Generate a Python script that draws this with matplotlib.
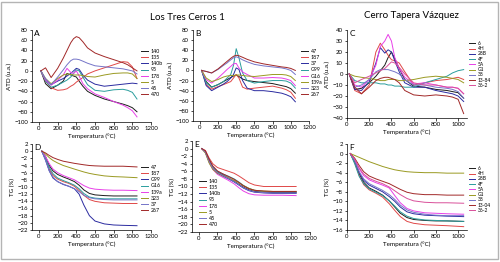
import matplotlib
matplotlib.use("Agg")
from matplotlib import pyplot as plt
from matplotlib.patches import Rectangle

plt.rcParams['font.family'] = ['Lato', 'DejaVu Sans']

# temperatures (°C) used for all curves
temp_atd = [20, 70, 130, 200, 260, 300, 340, 370, 400, 430, 470, 520, 600, 700, 800, 900, 950, 1000, 1050]
temp_tg = [30, 70, 110, 150, 200, 260, 320, 380, 430, 480, 540, 600, 700, 800, 900, 1050]

# A - ATD, Los Tres Cerros 1
a_labels = ["140", "135", "140b", "95", "178", "5", "45", "470"]
a_140 = [0, -25, -35, -28, -20, -5, -8, -10, -12, -20, -30, -40, -48, -55, -60, -65, -68, -72, -80]
a_135 = [0, -20, -33, -38, -37, -35, -30, -27, -22, -18, -13, -6, 0, 6, 12, 18, 17, 8, -15]
a_140b = [0, -18, -27, -20, -15, -10, -5, 0, 5, 3, -8, -18, -26, -30, -28, -26, -25, -24, -25]
a_95 = [0, -20, -32, -28, -22, -18, -12, -5, 2, 0, -12, -27, -38, -40, -37, -36, -38, -42, -55]
a_178 = [0, -18, -28, -18, -8, 5, -3, -5, 0, -10, -25, -35, -45, -52, -60, -67, -72, -78, -90]
a_5 = [0, -15, -25, -15, -8, -6, -7, -8, -8, -8, -9, -11, -12, -8, -5, -4, -4, -6, -15]
a_45 = [0, -15, -27, -12, 2, 12, 20, 23, 23, 22, 19, 15, 10, 8, 6, 4, 2, 0, -6]
a_470 = [0, 6, -13, 5, 25, 40, 55, 63, 67, 65, 57, 45, 35, 28, 22, 16, 12, 6, 0]

# B - ATD, Los Tres Cerros 1
b_labels = ["47", "187", "37", "G99", "G16", "139a", "323", "267"]
b_47 = [0, -22, -33, -28, -22, -18, -14, -11, -9, -12, -17, -20, -22, -24, -26, -30, -32, -36, -45]
b_187 = [0, -28, -37, -32, -28, -25, -22, -15, -8, -15, -33, -37, -35, -33, -31, -35, -38, -43, -55]
b_37 = [0, -30, -40, -33, -27, -22, -15, -8, 5, 2, -20, -35, -40, -40, -42, -45, -48, -52, -62]
b_g99 = [0, -25, -33, -28, -22, -15, -8, 10, 43, 25, -5, -20, -25, -22, -20, -20, -21, -25, -35]
b_g16 = [0, -18, -25, -15, -5, 2, 8, 13, 14, 5, -3, -8, -15, -15, -14, -15, -17, -20, -30]
b_139a = [0, -15, -22, -18, -13, -11, -10, -10, -9, -9, -10, -11, -12, -10, -8, -8, -9, -12, -20]
b_323 = [0, -2, -5, 2, 10, 15, 21, 25, 27, 25, 21, 17, 12, 9, 7, 5, 3, 0, -8]
b_267 = [0, -2, -5, 3, 12, 18, 24, 28, 30, 29, 26, 22, 17, 13, 10, 7, 6, 4, 0]

# C - ATD, Cerro Tapera Vazquez
c_labels = ["6", "4H", "28B", "4F", "5A", "G1", "38", "13-84", "36-2"]
c_6 = [0, -14, -13, -8, -2, 3, 8, 15, 20, 14, 5, -5, -11, -12, -14, -15, -16, -17, -22]
c_4h = [0, -15, -18, -10, 20, 28, 22, 17, 13, 12, 10, 2, -10, -8, -6, -5, -4, -3, -5]
c_28b = [0, -14, -15, -7, 10, 24, 19, 22, 20, 12, 2, -8, -12, -12, -15, -17, -18, -20, -25]
c_4f = [0, -6, -8, -8, -8, -9, -9, -10, -10, -11, -11, -12, -12, -8, -5, -2, 1, 3, 4]
c_5a = [0, -10, -12, -5, 8, 25, 30, 36, 30, 15, 5, -3, -9, -8, -10, -12, -12, -13, -18]
c_g1 = [0, -2, -3, -4, -5, -6, -6, -5, -5, -5, -6, -6, -5, -3, -2, -3, -4, -5, -8]
c_38 = [0, -12, -10, -5, 2, 4, 4, 4, 3, 2, 0, -5, -10, -10, -12, -13, -14, -16, -22]
c_1384 = [0, -12, -18, -12, -6, -4, -3, -3, -4, -5, -8, -15, -19, -20, -19, -20, -21, -23, -36]
c_362 = [0, -8, -5, -2, 1, 3, 5, 8, 11, 10, 6, 0, -8, -10, -10, -12, -12, -13, -18]

# D - TG, Los Tres Cerros 1
d_labels = ["47", "187", "G99", "G16", "139a", "323", "37", "267"]
d_47 = [0, -1.5, -4.0, -5.5, -6.5, -7.2, -7.8, -8.5, -9.5, -10.8, -11.8, -12.2, -12.4, -12.5, -12.5, -12.5]
d_187 = [0, -2, -5.0, -6.8, -7.8, -8.5, -9.0, -9.8, -11.0, -12.3, -13.5, -14.0, -14.4, -14.5, -14.6, -14.6]
d_g99 = [0, -2.5, -5.5, -7.5, -8.5, -9.3, -9.8, -10.5, -12.0, -15.0, -18.0, -19.5, -20.3, -20.6, -20.7, -20.8]
d_g16 = [0, -2, -4.5, -6.3, -7.5, -8.2, -8.8, -9.5, -10.5, -11.8, -12.8, -13.1, -13.3, -13.3, -13.3, -13.3]
d_139a = [0, -1.5, -3.5, -5.0, -6.0, -6.8, -7.4, -8.0, -8.8, -9.6, -10.3, -10.6, -10.8, -10.9, -10.9, -11.0]
d_323 = [0, -0.8, -1.8, -2.6, -3.3, -4.0, -4.5, -5.0, -5.4, -5.8, -6.2, -6.5, -6.9, -7.1, -7.2, -7.4]
d_37 = [0, -2.5, -5.5, -7.3, -8.5, -9.2, -9.8, -10.5, -11.3, -12.3, -13.0, -13.3, -13.5, -13.6, -13.6, -13.6]
d_267 = [0, -0.5, -1.2, -1.8, -2.3, -2.8, -3.1, -3.4, -3.6, -3.8, -4.0, -4.1, -4.2, -4.2, -4.2, -4.4]

# E - TG, Los Tres Cerros 1
e_labels = ["140", "135", "140b", "95", "178", "5", "45", "470"]
e_140 = [0, -0.8, -3.2, -5.0, -6.2, -7.0, -7.8, -8.6, -9.4, -10.2, -10.9, -11.3, -11.5, -11.6, -11.6, -11.6]
e_135 = [0, -0.5, -2.5, -4.0, -5.0, -5.5, -6.0, -6.5, -7.2, -8.0, -9.0, -9.6, -10.0, -10.0, -10.0, -10.0]
e_140b = [0, -1.0, -3.5, -5.3, -6.5, -7.3, -8.0, -8.8, -9.6, -10.4, -11.1, -11.5, -11.7, -11.8, -11.8, -11.8]
e_95 = [0, -0.8, -3.0, -4.8, -6.0, -6.7, -7.3, -8.0, -8.8, -9.7, -10.5, -11.0, -11.3, -11.4, -11.4, -11.4]
e_178 = [0, -1.0, -3.6, -5.5, -6.8, -7.6, -8.4, -9.3, -10.3, -11.2, -11.9, -12.2, -12.3, -12.3, -12.3, -12.4]
e_5 = [0, -1.2, -3.8, -5.5, -6.5, -7.2, -7.8, -8.4, -9.0, -9.8, -10.5, -11.0, -11.2, -11.3, -11.3, -11.3]
e_45 = [0, -0.9, -3.3, -5.1, -6.3, -7.1, -7.9, -8.7, -9.5, -10.3, -11.0, -11.4, -11.6, -11.7, -11.7, -11.7]
e_470 = [0, -0.6, -2.8, -4.6, -5.9, -6.7, -7.4, -8.1, -8.9, -9.8, -10.6, -11.0, -11.2, -11.3, -11.3, -11.3]

# F - TG, Cerro Tapera Vazquez
f_labels = ["6", "4H", "28B", "4F", "5A", "G1", "38", "13-04", "36-2"]
f_6 = [0, -1.8, -4.3, -6.0, -7.2, -7.9, -8.7, -9.9, -11.2, -12.5, -13.4, -13.8, -14.0, -14.1, -14.1, -14.2]
f_4h = [0, -1.9, -4.6, -6.5, -7.6, -8.3, -9.1, -10.5, -11.9, -13.2, -14.2, -14.6, -14.9, -15.0, -15.1, -15.3]
f_28b = [0, -1.6, -4.0, -5.6, -6.6, -7.3, -8.0, -9.0, -10.0, -11.2, -12.2, -12.6, -12.9, -13.0, -13.1, -13.2]
f_4f = [0, -2.2, -4.8, -6.3, -7.4, -8.1, -8.8, -9.9, -11.0, -12.2, -13.1, -13.6, -13.9, -14.0, -14.1, -14.2]
f_5a = [0, -1.2, -3.2, -4.6, -5.5, -6.1, -6.6, -7.2, -8.8, -10.3, -11.5, -12.0, -12.4, -12.5, -12.6, -12.7]
f_g1 = [0, -0.4, -0.8, -1.2, -1.7, -2.2, -2.7, -3.1, -3.4, -3.6, -3.8, -3.9, -4.0, -4.0, -4.1, -4.1]
f_38 = [0, -1.5, -3.8, -5.3, -6.3, -7.0, -7.7, -8.6, -9.6, -10.8, -11.8, -12.3, -12.7, -12.9, -13.0, -13.0]
f_1304 = [0, -1.0, -2.5, -3.8, -4.7, -5.3, -5.8, -6.3, -6.9, -7.5, -8.1, -8.4, -8.6, -8.6, -8.7, -8.7]
f_362 = [0, -1.2, -3.0, -4.3, -5.2, -5.8, -6.3, -7.0, -7.8, -8.6, -9.4, -9.9, -10.2, -10.3, -10.3, -10.4]

cols8 = ['#1c1c1c', '#e04848', '#2b2ba0', '#2a9d9d', '#e840e8', '#9a9a22', '#7474c8', '#a12828']
cols9 = cols8 + ['#d9509a']

W, H = 500.0, 262.0

def make_axes(l, r, t, b):
    return fig.add_axes([l / W, 1 - b / H, (r - l) / W, (b - t) / H])

def style(ax, letter, ylabel, xlim, xticks, ylim, yticks):
    ax.set_xlim(*xlim)
    ax.set_ylim(*ylim)
    ax.set_xticks(xticks)
    ax.set_yticks(yticks)
    for s in ['top', 'right']:
        ax.spines[s].set_visible(False)
    for s in ['left', 'bottom']:
        ax.spines[s].set_linewidth(0.5)
    ax.tick_params(labelsize=4.3, length=1.8, width=0.5, pad=1.2, direction='out')
    ax.set_xlabel("Temperatura (°C)", fontsize=4.5, labelpad=1.5)
    ax.set_ylabel(ylabel, fontsize=4.5, labelpad=1.5)
    ax.text(0.02, 0.995, letter, transform=ax.transAxes, fontsize=6, va='top', ha='left')

def draw(ax, temps, series, labels, cols, anchor, spacing, fs=3.8):
    for ys, lab, c in zip(series, labels, cols):
        ax.plot(temps, ys, color=c, lw=0.7, label=lab)
    ax.legend(loc='upper left', bbox_to_anchor=(anchor[0] / W, 1 - anchor[1] / H),
              bbox_transform=fig.transFigure, frameon=False, fontsize=fs,
              handlelength=1.3, handletextpad=0.5, labelspacing=spacing,
              borderpad=0, borderaxespad=0)

fig = plt.figure(figsize=(5, 2.62), dpi=100)
fig.patches.append(Rectangle((1 / W, 3 / H), 497 / W, 257 / H, transform=fig.transFigure,
                             fill=False, edgecolor='#b4b4b4', lw=1))

atd_x = (-75, 1200)
atd_xt = [0, 200, 400, 600, 800, 1000, 1200]

axA = make_axes(32, 151, 30, 122)
draw(axA, temp_atd, [a_140, a_135, a_140b, a_95, a_178, a_5, a_45, a_470], a_labels, cols8, (141, 49), 0.22)
style(axA, "A", "ATD (u.a.)", atd_x, atd_xt, (-100, 80), range(-100, 81, 20))

axB = make_axes(193, 309, 30, 121)
draw(axB, temp_atd, [b_47, b_187, b_37, b_g99, b_g16, b_139a, b_323, b_267], b_labels, cols8, (301, 49), 0.22)
style(axB, "B", "ATD (u.a.)", atd_x, atd_xt, (-100, 80), range(-100, 81, 20))

axC = make_axes(347, 467, 30, 118)
draw(axC, temp_atd, [c_6, c_4h, c_28b, c_4f, c_5a, c_g1, c_38, c_1384, c_362], c_labels, cols9, (469, 41), 0.05, 3.5)
style(axC, "C", "ATD (u.a.)", (0, 1080), [0, 200, 400, 600, 800, 1000], (-40, 40), range(-40, 41, 10))

axD = make_axes(32, 151, 144, 230)
draw(axD, temp_tg, [d_47, d_187, d_g99, d_g16, d_139a, d_323, d_37, d_267], d_labels, cols8, (141, 165), 0.22)
style(axD, "D", "TG (%)", atd_x, atd_xt, (-22, 2), range(-22, 3, 2))

axE = make_axes(192, 310, 141, 232)
draw(axE, temp_tg, [e_140, e_135, e_140b, e_95, e_178, e_5, e_45, e_470], e_labels, cols8, (199, 179), 0.22)
style(axE, "E", "TG (%)", atd_x, atd_xt, (-22, 2), range(-22, 3, 2))

axF = make_axes(347, 467, 144, 230)
draw(axF, temp_tg, [f_6, f_4h, f_28b, f_4f, f_5a, f_g1, f_38, f_1304, f_362], f_labels, cols9, (469, 166), 0.05, 3.5)
style(axF, "F", "TG (%)", (0, 1080), [0, 200, 400, 600, 800, 1000], (-16, 2), range(-16, 3, 2))

fig.text(187 / W, 1 - 18 / H, "Los Tres Cerros 1", fontsize=7, ha='center', va='center')
fig.text(411 / W, 1 - 15 / H, "Cerro Tapera Vázquez", fontsize=7, ha='center', va='center')

fig.savefig("out.png", dpi=100)
